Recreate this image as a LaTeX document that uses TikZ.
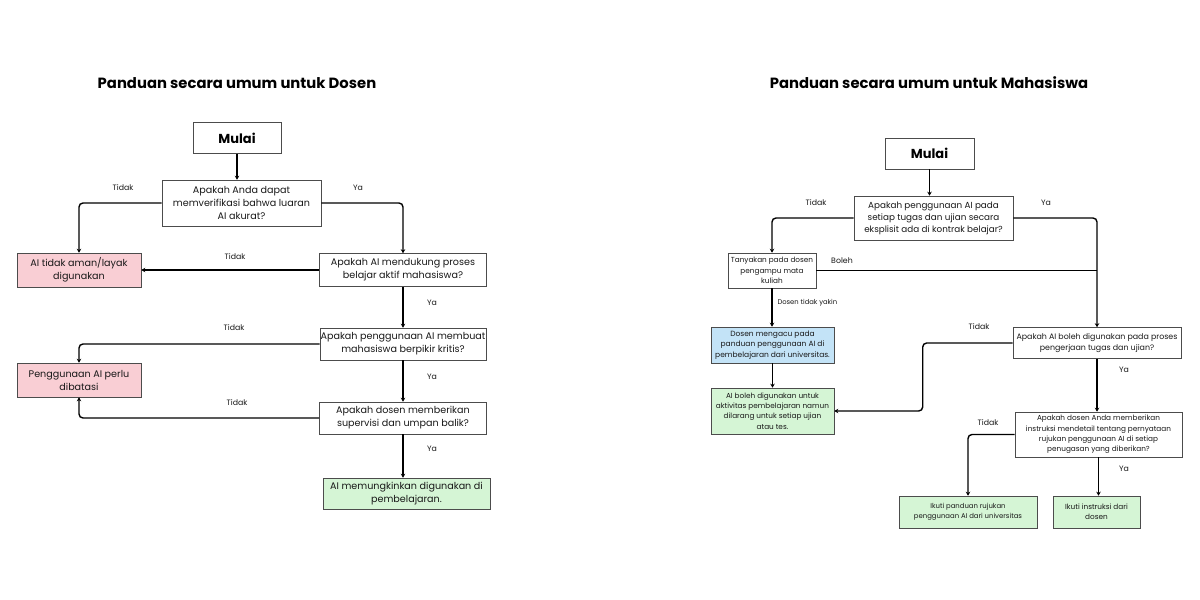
\documentclass[tikz,border=0pt]{standalone}
\usepackage{fontspec}
\setmainfont{Poppins}
\usetikzlibrary{arrows.meta}
\definecolor{merah}{HTML}{F9CED4}
\definecolor{hijau}{HTML}{D5F5D5}
\definecolor{biru}{HTML}{C3E3F7}
\begin{document}
\begin{tikzpicture}[x=1pt,y=-1pt,>={Stealth[length=4pt,width=4.5pt]},
    line/.style={->,line width=1.4pt,rounded corners=4pt},
    box/.style={draw=black!70,line width=0.6pt,fill=white,align=center,inner sep=0pt,
        text=black!90,font=\fontsize{9.6}{13}\selectfont},
    mid box/.style={box,font=\fontsize{8.8}{12}\selectfont},
    small box/.style={box,font=\fontsize{7.3}{10.3}\selectfont},
    start box/.style={box,font=\fontsize{13}{15}\selectfont\bfseries,text=black},
    lbl/.style={font=\fontsize{7.8}{9}\selectfont,text=black!90},
    title/.style={font=\fontsize{14.8}{18}\selectfont\bfseries}]

    \useasboundingbox (0,0) rectangle (1200,600);
    \fill[white] (0,0) rectangle (1200,600);

    % Define vertices (Dosen)
    \node[title] (judulD) at (237,83) {Panduan secara umum untuk Dosen};
    \node[start box,minimum width=88,minimum height=31] (mulaiD) at (237,138) {Mulai};
    \node[box,minimum width=159,minimum height=46] (q1) at (241.5,203)
        {Apakah Anda dapat\\memverifikasi bahwa luaran\\AI akurat?};
    \node[box,fill=merah,minimum width=124,minimum height=34] (r1) at (79,270)
        {AI tidak aman/layak\\digunakan};
    \node[box,minimum width=167,minimum height=33] (q2) at (403,270)
        {Apakah AI mendukung proses\\belajar aktif mahasiswa?};
    \node[box,minimum width=166,minimum height=32] (q3) at (403,344)
        {Apakah penggunaan AI membuat\\mahasiswa berpikir kritis?};
    \node[box,fill=merah,minimum width=124,minimum height=34] (r2) at (79,380)
        {Penggunaan AI perlu\\dibatasi};
    \node[box,minimum width=167,minimum height=32] (q4) at (403,418)
        {Apakah dosen memberikan\\supervisi dan umpan balik?};
    \node[box,fill=hijau,minimum width=167,minimum height=31] (g1) at (406.5,493.5)
        {AI memungkinkan digunakan di\\pembelajaran.};

    % Draw edges (Dosen)
    \draw[line] (mulaiD.south) -- (mulaiD.south |- q1.north);
    \draw[line] (q1.west) -| (r1.north);
    \draw[line] (q1.east) -| (q2.north);
    \draw[line] (q2.west) -- (r1.east);
    \draw[line] (q2) -- (q3);
    \draw[line] (q3.west) -| (r2.north);
    \draw[line] (q3) -- (q4);
    \draw[line] (q4.west) -| (r2.south);
    \draw[line] (q4.south) -- (q4.south |- g1.north);

    \node[lbl] (t1D) at (123,188) {Tidak};
    \node[lbl] (y1D) at (358,188) {Ya};
    \node[lbl] (t2D) at (235,257) {Tidak};
    \node[lbl] (y2D) at (432,303) {Ya};
    \node[lbl] (t3D) at (234,328) {Tidak};
    \node[lbl] (y3D) at (432,377) {Ya};
    \node[lbl] (t4D) at (237,403) {Tidak};
    \node[lbl] (y4D) at (432,449) {Ya};

    % Define vertices (Mahasiswa)
    \node[title] (judulM) at (929,83) {Panduan secara umum untuk Mahasiswa};
    \node[start box,minimum width=89,minimum height=31] (mulaiM) at (929.5,153.5) {Mulai};
    \node[mid box,minimum width=159,minimum height=44] (q5) at (933.5,218)
        {Apakah penggunaan AI pada\\setiap tugas dan ujian secara\\eksplisit ada di kontrak belajar?};
    \node[small box,minimum width=88,minimum height=35] (tanya) at (772,270.5)
        {Tanyakan pada dosen\\pengampu mata\\kuliah};
    \node[small box,fill=biru,minimum width=123,minimum height=36,
        font=\fontsize{7.5}{10.5}\selectfont] (acuan) at (772.5,345)
        {Dosen mengacu pada\\panduan penggunaan AI di\\pembelajaran dari universitas.};
    \node[small box,fill=hijau,minimum width=123,minimum height=46] (g2) at (772.5,411)
        {AI boleh digunakan untuk\\aktivitas pembelajaran namun\\dilarang untuk setiap ujian\\atau tes.};
    \node[small box,minimum width=168,minimum height=31,
        font=\fontsize{7.9}{10.3}\selectfont] (q6) at (1097,343)
        {Apakah AI boleh digunakan pada proses\\pengerjaan tugas dan ujian?};
    \node[small box,minimum width=167,minimum height=45] (q7) at (1098.5,434.5)
        {Apakah dosen Anda memberikan\\instruksi mendetail tentang pernyataan\\rujukan penggunaan AI di setiap\\penugasan yang diberikan?};
    \node[small box,fill=hijau,minimum width=138,minimum height=32,
        font=\fontsize{6.9}{10}\selectfont] (g3) at (968,512)
        {Ikuti panduan rujukan\\penggunaan AI dari universitas};
    \node[small box,fill=hijau,minimum width=87,minimum height=32] (g4) at (1096.5,512)
        {Ikuti instruksi dari\\dosen};

    % Draw edges (Mahasiswa)
    \draw[line] (mulaiM.south) -- (mulaiM.south |- q5.north);
    \draw[line] (q5.west) -| (tanya.north);
    \draw[line] (q5.east) -| (q6.north);
    \draw[line,-] (tanya.east) -- (tanya.east -| q6.north);
    \draw[line] (tanya.south) -- (tanya.south |- acuan.north);
    \draw[line] (acuan) -- (g2);
    \draw[line] (q6.west) -- ++(-90,0) |- (g2.east);
    \draw[line] (q6.south) -- (q6.south |- q7.north);
    \draw[line] (q7.west) -| (g3.north);
    \draw[line] (q7.south) -- (q7.south |- g4.north);

    \node[lbl] (t1M) at (816,203) {Tidak};
    \node[lbl] (y1M) at (1046,203) {Ya};
    \node[lbl] (bolehM) at (842,261) {Boleh};
    \node[lbl,anchor=west,font=\fontsize{6.8}{8}\selectfont] (ragu) at (774,303) {Dosen tidak yakin};
    \node[lbl] (t2M) at (979,327) {Tidak};
    \node[lbl] (y2M) at (1124,370) {Ya};
    \node[lbl] (t3M) at (988,423) {Tidak};
    \node[lbl] (y3M) at (1124,469) {Ya};

\end{tikzpicture}
\end{document}
